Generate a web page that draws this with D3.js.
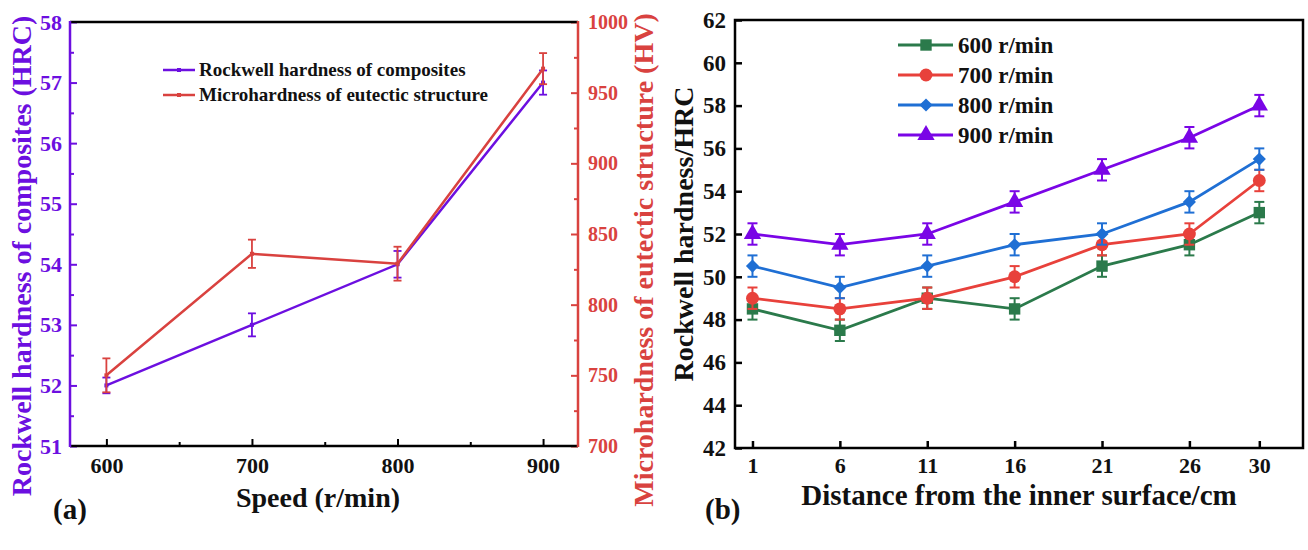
<!DOCTYPE html>
<html>
<head>
<meta charset="utf-8">
<title>Hardness charts</title>
<style>
    body { margin: 0; background: #fff; }
    svg text { font-family: "Liberation Serif", "DejaVu Serif", "Times New Roman", serif !important; font-weight: bold; }
</style>
</head>
<body>
<div id="chart"></div>
<script src="https://d3js.org/d3.v7.min.js"></script>
<script>
    // ---- data, panel (a) ----
    var speeds = [600, 700, 800, 900];
    var hrc = [52.0, 53.0, 54.0, 57.0];
    var hrcErr = [0.13, 0.19, 0.22, 0.2];
    var hv = [750, 836, 829, 967];
    var hvErr = [12, 10, 12, 11];
    var legendA = ['Rockwell hardness of composites', 'Microhardness of eutectic structure'];

    // ---- data, panel (b) ----
    var distances = [1, 6, 11, 16, 21, 26, 30];
    var seriesNames = ['600 r/min', '700 r/min', '800 r/min', '900 r/min'];
    var h600 = [48.5, 47.5, 49.0, 48.5, 50.5, 51.5, 53.0];
    var h700 = [49.0, 48.5, 49.0, 50.0, 51.5, 52.0, 54.5];
    var h800 = [50.5, 49.5, 50.5, 51.5, 52.0, 53.5, 55.5];
    var h900 = [52.0, 51.5, 52.0, 53.5, 55.0, 56.5, 58.0];
    var errB = [0.5, 0.5, 0.5, 0.5];

    var purpleA = '#6c0fe0';
    var redA = '#d9423f';
    var colorsB = ['#2b7a4b', '#e8413b', '#1f6fd4', '#7a05e6'];
    var shapes = [d3.symbolSquare, d3.symbolCircle, d3.symbolDiamond2 || d3.symbolDiamond, d3.symbolTriangle];
    var serif = '"Liberation Serif", "DejaVu Serif", serif';

    var svg = d3.select('#chart').append('svg')
        .attr('width', 1308)
        .attr('height', 550)
        .attr('font-family', serif)
        .attr('font-weight', 'bold');

    function styleTicks(g, color, size) {
        g.attr('font-family', serif).attr('font-weight', 'bold');
        g.selectAll('text').attr('fill', color).style('font-size', size + 'px');
    }

    // ================= panel (a) =================
    var a = {left: 70, right: 578, top: 22, bottom: 446};
    var xA = d3.scaleLinear().domain([575, 924]).range([a.left, a.right]);
    var yL = d3.scaleLinear().domain([51, 58]).range([a.bottom, a.top]);
    var yR = d3.scaleLinear().domain([700, 1000]).range([a.bottom, a.top]);

    var gA = svg.append('g');

    // minor ticks
    gA.append('g').attr('transform', 'translate(0,' + a.bottom + ')')
        .call(d3.axisBottom(xA).tickValues([650, 750, 850]).tickSize(-4).tickFormat(''))
        .call(function(g) { g.select('.domain').remove(); g.selectAll('line').attr('stroke', '#000').attr('stroke-width', 2); });
    gA.append('g').attr('transform', 'translate(' + a.left + ',0)')
        .call(d3.axisLeft(yL).tickValues(d3.range(51.5, 58, 1)).tickSize(-4).tickFormat(''))
        .call(function(g) { g.select('.domain').remove(); g.selectAll('line').attr('stroke', purpleA).attr('stroke-width', 2); });
    gA.append('g').attr('transform', 'translate(' + a.right + ',0)')
        .call(d3.axisRight(yR).tickValues(d3.range(725, 1000, 50)).tickSize(-4).tickFormat(''))
        .call(function(g) { g.select('.domain').remove(); g.selectAll('line').attr('stroke', redA).attr('stroke-width', 2); });

    // major ticks
    gA.append('g').attr('transform', 'translate(0,' + a.bottom + ')')
        .call(d3.axisBottom(xA).tickValues(speeds).tickSize(-7).tickPadding(11))
        .call(function(g) {
            g.select('.domain').remove();
            g.selectAll('line').attr('stroke', '#000').attr('stroke-width', 2);
            styleTicks(g, '#111', 22);
        });
    gA.append('g').attr('transform', 'translate(' + a.left + ',0)')
        .call(d3.axisLeft(yL).ticks(7).tickSize(-7).tickPadding(8))
        .call(function(g) {
            g.select('.domain').remove();
            g.selectAll('line').attr('stroke', purpleA).attr('stroke-width', 2);
            styleTicks(g, purpleA, 22);
        });
    gA.append('g').attr('transform', 'translate(' + a.right + ',0)')
        .call(d3.axisRight(yR).ticks(6).tickFormat(d3.format('d')).tickSize(-7).tickPadding(10))
        .call(function(g) {
            g.select('.domain').remove();
            g.selectAll('line').attr('stroke', redA).attr('stroke-width', 2);
            styleTicks(g, redA, 20);
        });

    // frame
    gA.append('line').attr('x1', a.left).attr('x2', a.right).attr('y1', a.top).attr('y2', a.top).attr('stroke', '#000').attr('stroke-width', 2.5);
    gA.append('line').attr('x1', a.left).attr('x2', a.right).attr('y1', a.bottom).attr('y2', a.bottom).attr('stroke', '#000').attr('stroke-width', 2.5);
    gA.append('line').attr('x1', a.left).attr('x2', a.left).attr('y1', a.top - 1).attr('y2', a.bottom + 1).attr('stroke', purpleA).attr('stroke-width', 2.5);
    gA.append('line').attr('x1', a.right).attr('x2', a.right).attr('y1', a.top - 1).attr('y2', a.bottom + 1).attr('stroke', redA).attr('stroke-width', 2.5);

    function drawSeriesA(vals, errs, yScale, color) {
        var pts = speeds.map(function(s, i) { return {x: s, y: vals[i], e: errs[i]}; });
        gA.append('path').datum(pts)
            .attr('fill', 'none').attr('stroke', color).attr('stroke-width', 2.5)
            .attr('d', d3.line().x(function(d) { return xA(d.x); }).y(function(d) { return yScale(d.y); }));
        var eb = gA.append('g').attr('stroke', color).attr('stroke-width', 1.8);
        pts.forEach(function(d) {
            var cx = xA(d.x);
            eb.append('line').attr('x1', cx).attr('x2', cx).attr('y1', yScale(d.y - d.e)).attr('y2', yScale(d.y + d.e));
            eb.append('line').attr('x1', cx - 4).attr('x2', cx + 4).attr('y1', yScale(d.y - d.e)).attr('y2', yScale(d.y - d.e));
            eb.append('line').attr('x1', cx - 4).attr('x2', cx + 4).attr('y1', yScale(d.y + d.e)).attr('y2', yScale(d.y + d.e));
        });
        gA.selectAll(null).data(pts).enter().append('rect')
            .attr('x', function(d) { return xA(d.x) - 2; })
            .attr('y', function(d) { return yScale(d.y) - 2; })
            .attr('width', 4).attr('height', 4).attr('fill', color);
    }
    drawSeriesA(hrc, hrcErr, yL, purpleA);
    drawSeriesA(hv, hvErr, yR, redA);

    // legend (a)
    var legA = gA.selectAll('.legA').data(legendA).enter().append('g')
        .attr('transform', function(d, i) { return 'translate(163,' + (70 + i * 25) + ')'; });
    legA.append('line').attr('x1', 0).attr('x2', 32).attr('y1', 0).attr('y2', 0)
        .attr('stroke', function(d, i) { return i ? redA : purpleA; }).attr('stroke-width', 2.5);
    legA.append('rect').attr('x', 14).attr('y', -2).attr('width', 4).attr('height', 4)
        .attr('fill', function(d, i) { return i ? redA : purpleA; });
    legA.append('text').attr('x', 36).attr('y', 6).style('font-size', '19px').attr('fill', '#111')
        .text(function(d) { return d; });

    // axis titles (a)
    svg.append('text').attr('transform', 'translate(31,' + ((a.top + a.bottom) / 2 + 22) + ') rotate(-90)')
        .attr('text-anchor', 'middle').attr('fill', purpleA).style('font-size', '28px')
        .text('Rockwell hardness of composites (HRC)');
    svg.append('text').attr('transform', 'translate(653,' + ((a.top + a.bottom) / 2 + 26) + ') rotate(-90)')
        .attr('text-anchor', 'middle').attr('fill', redA).style('font-size', '28px')
        .text('Microhardness of eutectic structure (HV)');
    svg.append('text').attr('x', (a.left + a.right) / 2 - 6).attr('y', 507)
        .attr('text-anchor', 'middle').attr('fill', '#111').style('font-size', '28px')
        .text('Speed (r/min)');
    svg.append('text').attr('x', 53).attr('y', 519).attr('fill', '#111').style('font-size', '29px').text('(a)');

    // ================= panel (b) =================
    var b = {left: 735, right: 1303, top: 20, bottom: 448};
    var xB = d3.scaleLinear().domain([0, 32.5]).range([b.left, b.right]);
    var yB = d3.scaleLinear().domain([42, 62]).range([b.bottom, b.top]);
    var gB = svg.append('g');

    gB.append('g').attr('transform', 'translate(0,' + b.bottom + ')')
        .call(d3.axisBottom(xB).tickValues(distances).tickSize(-7).tickPadding(9))
        .call(function(g) {
            g.select('.domain').remove();
            g.selectAll('line').attr('stroke', '#000').attr('stroke-width', 2.5);
            styleTicks(g, '#111', 22);
        });
    gB.append('g').attr('transform', 'translate(' + b.left + ',0)')
        .call(d3.axisLeft(yB).tickValues(d3.range(42, 63, 2)).tickSize(-7).tickPadding(9))
        .call(function(g) {
            g.select('.domain').remove();
            g.selectAll('line').attr('stroke', '#000').attr('stroke-width', 2.5);
            styleTicks(g, '#111', 23);
        });
    gB.append('rect').attr('x', b.left).attr('y', b.top).attr('width', b.right - b.left).attr('height', b.bottom - b.top)
        .attr('fill', 'none').attr('stroke', '#000').attr('stroke-width', 2.5);

    var seriesB = [h600, h700, h800, h900];
    seriesB.forEach(function(vals, k) {
        var color = colorsB[k];
        var pts = distances.map(function(dd, i) { return {x: dd, y: vals[i], e: errB[k]}; });
        gB.append('path').datum(pts)
            .attr('fill', 'none').attr('stroke', color).attr('stroke-width', 2.8)
            .attr('d', d3.line().x(function(d) { return xB(d.x); }).y(function(d) { return yB(d.y); }));
        var eb = gB.append('g').attr('stroke', color).attr('stroke-width', 2);
        pts.forEach(function(d) {
            var cx = xB(d.x);
            eb.append('line').attr('x1', cx).attr('x2', cx).attr('y1', yB(d.y - d.e)).attr('y2', yB(d.y + d.e));
            eb.append('line').attr('x1', cx - 5).attr('x2', cx + 5).attr('y1', yB(d.y - d.e)).attr('y2', yB(d.y - d.e));
            eb.append('line').attr('x1', cx - 5).attr('x2', cx + 5).attr('y1', yB(d.y + d.e)).attr('y2', yB(d.y + d.e));
        });
        gB.selectAll(null).data(pts).enter().append('path')
            .attr('transform', function(d) { return 'translate(' + xB(d.x) + ',' + yB(d.y) + ')'; })
            .attr('d', d3.symbol().type(shapes[k]).size(k === 2 ? 110 : 130))
            .attr('fill', color);
    });

    // legend (b)
    var legB = gB.selectAll('.legB').data(seriesNames).enter().append('g')
        .attr('transform', function(d, i) { return 'translate(898,' + (45 + i * 30) + ')'; });
    legB.append('line').attr('x1', 0).attr('x2', 55).attr('y1', 0).attr('y2', 0)
        .attr('stroke', function(d, i) { return colorsB[i]; }).attr('stroke-width', 2.8);
    legB.append('path').attr('transform', 'translate(28,0)')
        .attr('d', function(d, i) { return d3.symbol().type(shapes[i]).size(i === 2 ? 110 : 130)(); })
        .attr('fill', function(d, i) { return colorsB[i]; });
    legB.append('text').attr('x', 60).attr('y', 8).style('font-size', '23px').attr('fill', '#111')
        .text(function(d) { return d; });

    svg.append('text').attr('transform', 'translate(693,' + ((b.top + b.bottom) / 2) + ') rotate(-90)')
        .attr('text-anchor', 'middle').attr('fill', '#111').style('font-size', '28px')
        .text('Rockwell hardness/HRC');
    svg.append('text').attr('x', (b.left + b.right) / 2).attr('y', 505)
        .attr('text-anchor', 'middle').attr('fill', '#111').style('font-size', '29px')
        .text('Distance from the inner surface/cm');
    svg.append('text').attr('x', 705).attr('y', 519).attr('fill', '#111').style('font-size', '29px').text('(b)');
</script>
</body>
</html>
